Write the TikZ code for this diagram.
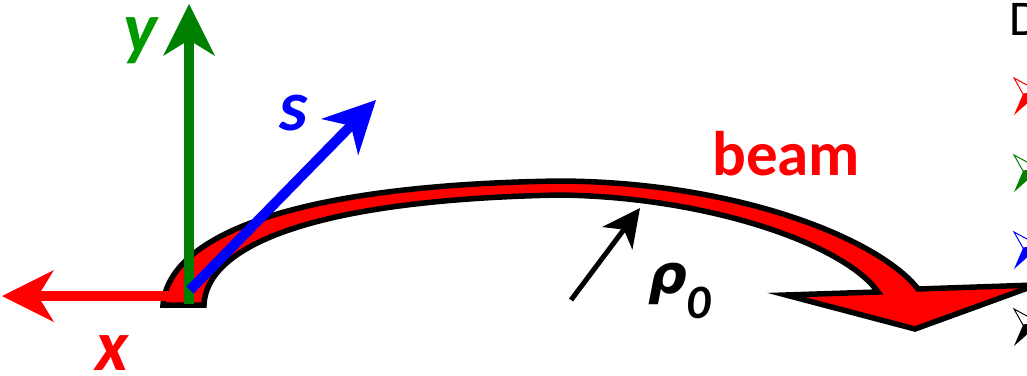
\documentclass[tikz,border=0pt]{standalone}
\usepackage{fontspec}
\setmainfont{Carlito}
\newfontfamily\rhofont{DejaVu Sans}
\usetikzlibrary{arrows.meta}
\definecolor{beamred}{RGB}{255,0,0}
\definecolor{axgreen}{RGB}{0,128,0}
\definecolor{labgreen}{RGB}{0,153,0}
\definecolor{axblue}{RGB}{0,0,255}
\tikzset{
  axisarrow/.style={line width=10pt, -{Stealth[length=52pt,width=52pt,inset=16pt,line width=0pt]}},
  rhoarrow/.style={line width=5pt, -{Stealth[length=38pt,width=38pt,inset=11pt,line width=0pt]}},
  biglab/.style={inner sep=0pt, anchor=base west, font=\fontsize{72}{72}\selectfont\bfseries\itshape},
  txt/.style={inner sep=0pt, anchor=base west},
  iconline/.style={line width=1pt, line join=miter},
}
\newcommand{\legicon}[2]{%
  \draw[iconline, draw=#1, fill=white] (1014,#2-16) -- (1040,#2-2) -- (1023,#2) -- cycle;
  \fill[#1] (1023,#2) -- (1040,#2-2) -- (1014,#2+21) -- cycle;
}
\begin{document}
\begin{tikzpicture}[x=1pt,y=-1pt]
\useasboundingbox (0,0) rectangle (1027,375);
\clip (0,0) rectangle (1027,375);
% beam
\filldraw[fill=beamred, draw=black, line width=5.5pt, line join=miter]
  (163,305)
  .. controls (168,240) and (280,185) .. (560,181)
  .. controls (740,182) and (880,240) .. (918,289)
  -- (1036,285)
  -- (915,329)
  -- (786,295)
  -- (878,292)
  .. controls (845,245) and (710,197) .. (560,195)
  .. controls (300,200) and (206,250) .. (204,305)
  -- cycle;
% coordinates
\coordinate (xs) at (172,296);
\coordinate (xe) at (2,296);
\coordinate (ys) at (189,304);
\coordinate (ye) at (189,4);
\coordinate (ss) at (190,290);
\coordinate (se) at (376,100);
\coordinate (rs) at (571,300);
\coordinate (re) at (640,208);
% axes
\draw[axisarrow, draw=beamred, fill=beamred] (xs) -- (xe);
\draw[axisarrow, draw=axgreen, fill=axgreen] (ys) -- (ye);
\draw[axisarrow, draw=axblue, fill=axblue] (ss) -- (se);
\draw[rhoarrow, draw=black, fill=black] (rs) -- (re);
% labels
\node[biglab, text=beamred] (xl) at (95,370) {x};
\node[biglab, text=labgreen] (yl) at (123,52) {y};
\node[biglab, text=axblue] (sl) at (279,130) {s};
\node[txt, text=beamred, font=\fontsize{63}{63}\selectfont\bfseries] (beam) at (712,175) {beam};
\node[txt, font=\fontsize{54}{54}\selectfont\rhofont\bfseries\itshape] (rho) at (648,293) {ρ};
\node[txt, font=\fontsize{48}{48}\selectfont\bfseries\itshape] (zero) at (686,318) {0};
% legend (cut off at right edge)
\node[txt, font=\fontsize{50}{50}\selectfont] (leg) at (1009,35) {D};
\legicon{beamred}{94}
\legicon{axgreen}{171}
\legicon{axblue}{248}
\legicon{black}{325}
\end{tikzpicture}
\end{document}
